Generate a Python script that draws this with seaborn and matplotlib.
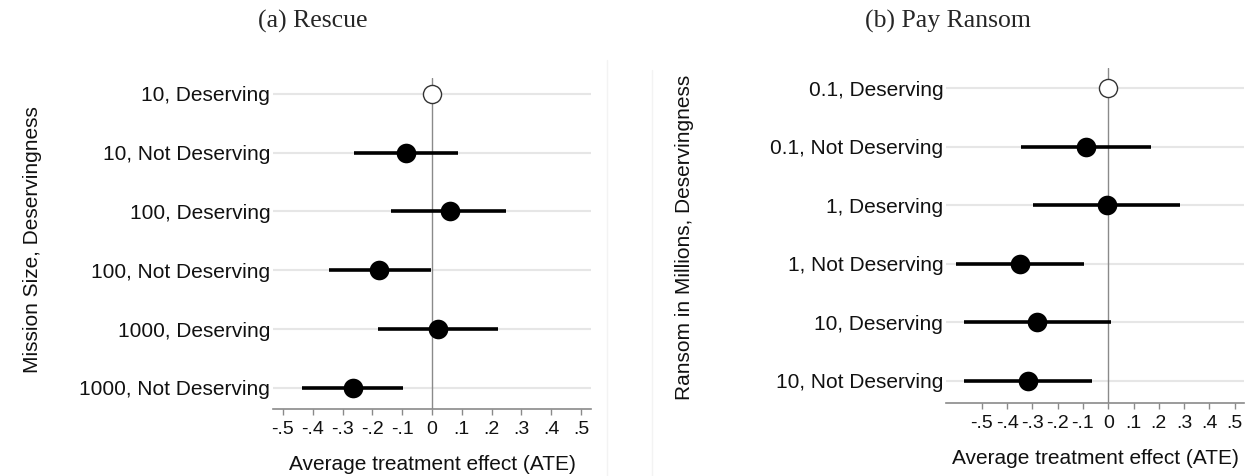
import numpy as np
import pandas as pd
import matplotlib
matplotlib.use("Agg")
import matplotlib.pyplot as plt
import seaborn as sns
from matplotlib.transforms import Bbox
from matplotlib.lines import Line2D

# ---------------- data ----------------
rescue_labels = ["10, Deserving", "10, Not Deserving", "100, Deserving",
                 "100, Not Deserving", "1000, Deserving", "1000, Not Deserving"]
rescue_est = [0.0, -0.087, 0.060, -0.176, 0.021, -0.266]
rescue_lo = [np.nan, -0.263, -0.136, -0.346, -0.180, -0.436]
rescue_hi = [np.nan, 0.087, 0.248, -0.005, 0.221, -0.096]

ransom_labels = ["0.1, Deserving", "0.1, Not Deserving", "1, Deserving",
                 "1, Not Deserving", "10, Deserving", "10, Not Deserving"]
ransom_est = [0.0, -0.089, -0.006, -0.351, -0.280, -0.319]
ransom_lo = [np.nan, -0.344, -0.297, -0.602, -0.570, -0.570]
ransom_hi = [np.nan, 0.169, 0.283, -0.097, 0.009, -0.066]

is_reference = [True, False, False, False, False, False]

x_ticks = [-0.5, -0.4, -0.3, -0.2, -0.1, 0.0, 0.1, 0.2, 0.3, 0.4, 0.5]
x_tick_labels = ["-.5", "-.4", "-.3", "-.2", "-.1", "0", ".1", ".2", ".3", ".4", ".5"]

titles = ["(a) Rescue", "(b) Pay Ransom"]
y_titles = ["Mission Size, Deservingness", "Ransom in Millions, Deservingness"]
x_title = "Average treatment effect (ATE)"

# ---------------- style ----------------
sns.set_theme(style="white")
plt.rcParams["font.family"] = ["Liberation Sans", "DejaVu Sans"]

W, H = 1254, 476
fig = plt.figure(figsize=(W / 100, H / 100), dpi=100)


def px_axes(x0, x1, ytop, ybot):
    return fig.add_axes([x0 / W, 1 - ybot / H, (x1 - x0) / W, (ybot - ytop) / H])


def draw_panel(ax, labels, est, lo, hi, xlim, ylim):
    df = pd.DataFrame({"label": labels, "est": est, "lo": lo, "hi": hi,
                       "ref": is_reference})
    ax.grid(axis="y", color="#e6e6e6", lw=1.5, zorder=0)
    ax.grid(axis="x", visible=False)
    ax.axvline(0, color="#8a8a8a", lw=1.0, zorder=1)
    # confidence intervals (all rows in order so the category axis keeps row order)
    ax.hlines(y=list(df["label"]), xmin=df["lo"], xmax=df["hi"],
              color="black", lw=2.6, zorder=2)
    sub = df[~df["ref"]]
    ref = df[df["ref"]]
    sns.scatterplot(data=sub, x="est", y="label", ax=ax, color="black",
                    s=200, edgecolor="black", linewidth=0, zorder=3,
                    legend=False)
    sns.scatterplot(data=ref, x="est", y="label", ax=ax, facecolor="white",
                    s=170, edgecolor="#333333", linewidth=1.0, zorder=3,
                    legend=False)
    ax.set_ylim(*ylim)
    ax.set_xlim(*xlim)
    ax.set_xticks(x_ticks)
    ax.set_xticklabels(x_tick_labels)
    ax.set_xlabel(x_title, fontsize=15, labelpad=12, color="#111111")
    ax.set_ylabel("")
    for side in ["top", "right", "left"]:
        ax.spines[side].set_visible(False)
    ax.spines["bottom"].set_color("#8a8a8a")
    ax.spines["bottom"].set_linewidth(1.2)
    ax.tick_params(axis="x", length=4, width=1, color="#8a8a8a",
                   labelsize=14, pad=5, labelcolor="#111111", bottom=True)
    ax.tick_params(axis="y", length=0, labelsize=15, pad=2, labelcolor="#111111")
    ax.set_facecolor("white")


ax1 = px_axes(273, 591, 78, 409)
draw_panel(ax1, rescue_labels, rescue_est, rescue_lo, rescue_hi,
           (-0.533, 0.533), (5.36, -0.27))

ax2 = px_axes(946, 1244, 68, 403)
draw_panel(ax2, ransom_labels, ransom_est, ransom_lo, ransom_hi,
           (-0.642, 0.537), (5.38, -0.35))

# faint sub-figure borders
fig.add_artist(Line2D([607 / W, 607 / W], [0, 1 - 60 / H], color="#f3f3f3", lw=1))
fig.add_artist(Line2D([652 / W, 652 / W], [0, 1 - 70 / H], color="#f3f3f3", lw=1))

# titles (serif)
fig.text(313 / W, 1 - 21 / H, titles[0], ha="center", va="center",
         fontsize=18.5, family=["Liberation Serif", "DejaVu Serif"])
fig.text(948 / W, 1 - 21 / H, titles[1], ha="center", va="center",
         fontsize=18.5, family=["Liberation Serif", "DejaVu Serif"])

# y-axis titles
fig.text(33 / W, 1 - 240 / H, y_titles[0], ha="center", va="center",
         rotation=90, fontsize=15, color="#111111")
t2 = fig.text(685 / W, 1 - 400 / H, y_titles[1], ha="center", va="bottom",
              rotation=90, fontsize=15, color="#111111")
t2.set_clip_box(Bbox.from_extents(600, 0, 760, H - 66))
t2.set_clip_on(True)

fig.savefig("out.png", dpi=100, facecolor="white")
